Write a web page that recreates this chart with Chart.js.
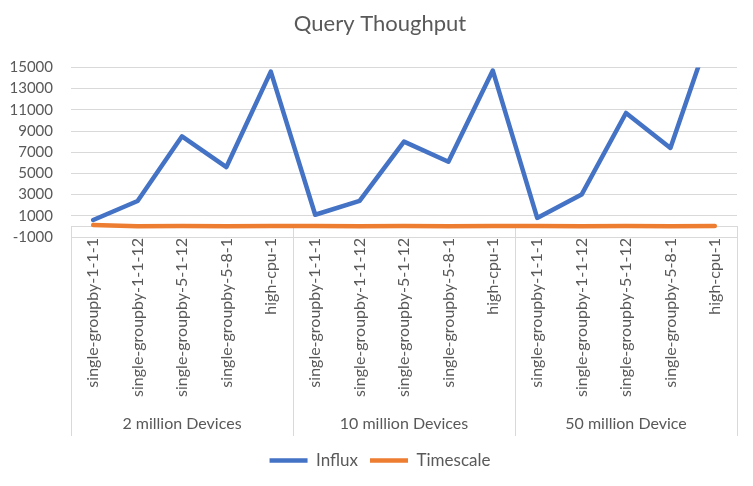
<!DOCTYPE html>
<html><head><meta charset="utf-8">
<script src="https://cdn.jsdelivr.net/npm/chart.js@4.4.0/dist/chart.umd.min.js"></script>
<style>html,body{margin:0;padding:0;background:#fff}</style>
</head><body>
<canvas id="c" width="753" height="486"></canvas>
<script>
const groups = ['2 million Devices', '10 million Devices', '50 million Device'];
const queries = ['single-groupby-1-1-1', 'single-groupby-1-1-12', 'single-groupby-5-1-12', 'single-groupby-5-8-1', 'high-cpu-1'];
const categories = groups.flatMap(() => queries);
const influx = [600, 2400, 8500, 5600, 14600, 1100, 2400, 8000, 6100, 14700, 800, 3000, 10700, 7400, 19600];
const timescale = [130, 20, 30, 20, 40, 30, 20, 30, 20, 40, 30, 20, 30, 20, 40];
const yMin = -1000, yMax = 15000, yStep = 2000;

const TXT = '#595959', GRID = '#d9d9d9';

const groupAxis = {
  id: 'groupAxis',
  beforeDatasetsDraw(chart) {
    const {ctx, scales: {x, y}} = chart;
    const y0 = Math.round(y.getPixelForValue(0)) + 0.5;
    const bottom = x.bottom - 4;
    const n = queries.length;
    ctx.save();
    ctx.strokeStyle = GRID; ctx.lineWidth = 1;
    ctx.beginPath();
    ctx.moveTo(x.left, y0); ctx.lineTo(x.right, y0);
    for (let g = 0; g <= groups.length; g++) {
      let px;
      if (g === 0) px = x.left;
      else if (g === groups.length) px = x.right;
      else px = (x.getPixelForValue(g * n - 1) + x.getPixelForValue(g * n)) / 2;
      px = Math.round(px) + 0.5;
      ctx.moveTo(px, y0 - 0.5); ctx.lineTo(px, bottom);
    }
    ctx.stroke();
    ctx.fillStyle = TXT; ctx.font = '16px Lato'; ctx.textAlign = 'center'; ctx.textBaseline = 'middle';
    groups.forEach((name, g) => {
      const a = x.getPixelForValue(g * n), b = x.getPixelForValue(g * n + n - 1);
      ctx.fillText(name, (a + b) / 2, x.bottom - 16);
    });
    ctx.restore();
  }
};

new Chart(document.getElementById('c'), {
  type: 'line',
  data: {
    labels: categories,
    datasets: [
      {label: 'Influx', data: influx, borderColor: '#4472C4', backgroundColor: '#4472C4', borderWidth: 4.5,
       pointRadius: 0, borderCapStyle: 'round', borderJoinStyle: 'round', tension: 0},
      {label: 'Timescale', data: timescale, borderColor: '#ED7D31', backgroundColor: '#ED7D31', borderWidth: 4.5,
       pointRadius: 0, borderCapStyle: 'round', borderJoinStyle: 'round', tension: 0}
    ]
  },
  options: {
    responsive: false, animation: false, devicePixelRatio: 1,
    layout: {padding: {left: 7, right: 0, top: 0, bottom: 7}},
    plugins: {
      title: {display: true, text: 'Query Thoughput', color: TXT,
              font: {family: 'Lato', size: 22, weight: 'normal'}, padding: {top: 11, bottom: 30}},
      legend: {position: 'bottom',
               labels: {usePointStyle: true, pointStyle: 'line', pointStyleWidth: 38, color: TXT,
                        font: {family: 'Lato', size: 17}, padding: 12}},
      tooltip: {enabled: false}
    },
    scales: {
      x: {type: 'category', offset: true,
          grid: {display: false, drawTicks: false}, border: {display: false},
          ticks: {autoSkip: false, minRotation: 90, maxRotation: 90, padding: 1, color: TXT,
                  font: {family: 'Lato', size: 16}},
          afterFit(s) { s.height = 203; }},
      y: {min: yMin, max: yMax,
          ticks: {stepSize: yStep, autoSkip: false, padding: 18, color: TXT, font: {family: 'Lato', size: 15},
                  callback: v => String(v)},
          grid: {color: GRID, drawTicks: false}, border: {display: false},
          afterFit(s) { s.width = 64; }},
      yRight: {position: 'right', display: true,
               grid: {display: false, drawTicks: false}, border: {display: false},
               ticks: {display: false},
               afterFit(s) { s.width = 16; }}
    }
  },
  plugins: [groupAxis]
});
</script>
</body></html>
